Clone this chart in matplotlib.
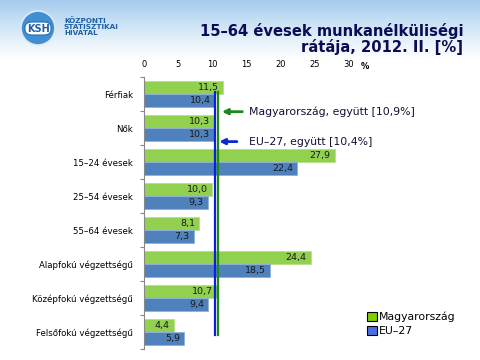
import matplotlib.pyplot as plt
import numpy as np
from matplotlib.patches import Ellipse, FancyBboxPatch

# data
categories = ['Férfiak', 'Nők', '15–24 évesek', '25–54 évesek', '55–64 évesek',
              'Alapfokú végzettségű', 'Középfokú végzettségű', 'Felsőfokú végzettségű']
hu_values = [11.5, 10.3, 27.9, 10.0, 8.1, 24.4, 10.7, 4.4]
eu_values = [10.4, 10.3, 22.4, 9.3, 7.3, 18.5, 9.4, 5.9]
hu_total = 10.9
eu_total = 10.4
xticks = [0, 5, 10, 15, 20, 25, 30]

green = '#92D050'
blue = '#4F81BD'

fig = plt.figure(figsize=(4.8, 3.6), dpi=100)

# background gradient at the top
bg = fig.add_axes([0, 0, 1, 1], zorder=-10)
grad = np.linspace(0, 1, 360).reshape(-1, 1)
top = np.array([0.64, 0.80, 0.93])
w = np.clip(1 - grad / 0.17, 0, 1) ** 1.2
col = np.ones((360, 1, 3)) * (1 - w[..., None]) + top * w[..., None]
bg.imshow(col, aspect='auto', extent=[0, 1, 0, 1])
bg.set_xlim(0, 1)
bg.set_ylim(0, 1)
bg.axis('off')

# logo
bg.add_patch(Ellipse((38 / 480, 1 - 28 / 360), 34 / 480, 34 / 360, transform=bg.transAxes,
                     facecolor='#3f8fd2', edgecolor='#dde9f5', lw=1.2))
bg.add_patch(FancyBboxPatch((25 / 480, 1 - 35 / 360), 26 / 480, 13 / 360,
                            boxstyle='round,pad=0,rounding_size=0.015',
                            transform=bg.transAxes, facecolor='white', edgecolor='#2a6fb5', lw=0.8))
bg.text(38 / 480, 1 - 28.5 / 360, 'KSH', color='#1f5fa8', fontsize=7, weight='bold',
        ha='center', va='center', transform=bg.transAxes)
bg.text(64 / 480, 1 - 27 / 360, 'KÖZPONTI\nSTATISZTIKAI\nHIVATAL', color='#1f5fa8',
        fontsize=5.2, weight='bold', ha='left', va='center', linespacing=1.0,
        transform=bg.transAxes)

# title
fig.text(0.965, 1 - 39 / 360, '15–64 évesek munkanélküliségi\nrátája, 2012. II. [%]',
         ha='right', va='center', fontsize=10.6, weight='bold', color='#0c0c55',
         linespacing=1.05)

ax = fig.add_axes([144 / 480, 11 / 360, 205 / 480, 272 / 360])
y = np.arange(len(categories))
h = 0.37
ax.barh(y - h / 2 - 0.01, hu_values, height=h, color=green, edgecolor='#b5e08a', lw=0.6)
ax.barh(y + h / 2 + 0.01, eu_values, height=h, color=blue, edgecolor='#8fb0d8', lw=0.6)

for i in range(len(categories)):
    ax.text(hu_values[i] - 0.6, y[i] - h / 2 - 0.01, f'{hu_values[i]:.1f}'.replace('.', ','),
            ha='right', va='center', fontsize=6.8, color='#1a1a1a')
    ax.text(eu_values[i] - 0.6, y[i] + h / 2 + 0.01, f'{eu_values[i]:.1f}'.replace('.', ','),
            ha='right', va='center', fontsize=6.8, color='#1a1a1a')

ax.set_xlim(0, 30)
ax.set_ylim(len(categories) - 0.5, -0.5)
ax.xaxis.tick_top()
ax.set_xticks(xticks)
ax.set_xticklabels([str(t) for t in xticks], fontsize=6)
ax.tick_params(axis='x', length=0, pad=6)
ax.set_yticks(np.arange(-0.5, len(categories), 1))
ax.set_yticklabels([])
ax.set_yticks(y, minor=True)
ax.set_yticklabels(categories, minor=True, fontsize=6.2)
ax.tick_params(axis='y', which='minor', length=0, pad=8)
ax.tick_params(axis='y', which='major', length=3, color='#888888')
for s in ['top', 'right', 'bottom']:
    ax.spines[s].set_visible(False)
ax.spines['left'].set_color('#888888')
ax.patch.set_alpha(0)
ax.text(1.08, 1.03, '%', transform=ax.transAxes, fontsize=6, weight='bold', ha='center')

# total lines
ax.axvline(eu_total, ymin=0.05, ymax=0.945, color='#0a1fe0', lw=1.6)
ax.axvline(hu_total, ymin=0.05, ymax=0.945, color='#1a8a1a', lw=1.6)

ax.annotate('', xy=(hu_total + 0.1, 0.52), xytext=(14.8, 0.52),
            arrowprops=dict(arrowstyle='-|>', color='#1a8a1a', lw=2, mutation_scale=8),
            annotation_clip=False)
ax.annotate('', xy=(eu_total + 0.2, 1.4), xytext=(14.0, 1.4),
            arrowprops=dict(arrowstyle='-|>', color='#0a2ad0', lw=2, mutation_scale=8),
            annotation_clip=False)
ax.text(15.3, 0.52, 'Magyarország, együtt [10,9%]', fontsize=7.8, va='center', color='#111133')
ax.text(15.3, 1.4, 'EU–27, együtt [10,4%]', fontsize=7.8, va='center', color='#111133')

# legend
ax.legend(handles=[plt.Rectangle((0, 0), 1, 1, fc='#7fcc00', ec='black', lw=0.8),
                   plt.Rectangle((0, 0), 1, 1, fc='#4a6fe0', ec='black', lw=0.8)],
          labels=['Magyarország', 'EU–27'], loc='upper left',
          bbox_to_anchor=(362 / 480, 1 - 306 / 360), bbox_transform=fig.transFigure,
          frameon=False, fontsize=7.8, handlelength=0.9, handleheight=0.9,
          handletextpad=0.2, labelspacing=0.35, borderpad=0)

fig.savefig('out.png', dpi=100)
